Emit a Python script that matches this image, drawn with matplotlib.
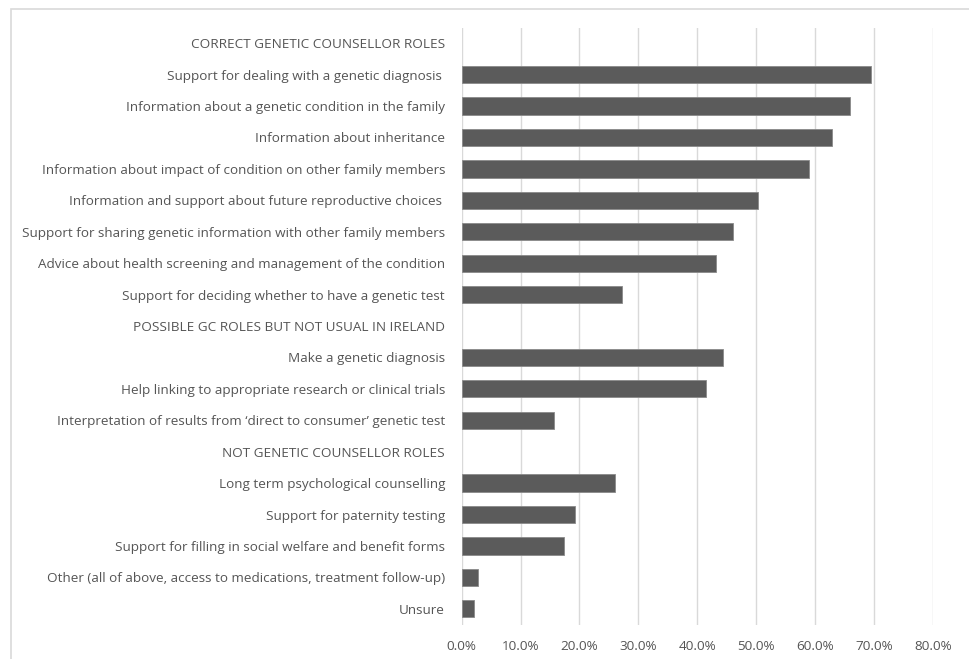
import matplotlib
matplotlib.use("Agg")
import matplotlib.pyplot as plt
from matplotlib.patches import Rectangle
from matplotlib.ticker import PercentFormatter
import numpy as np

plt.rcParams['font.family'] = ['Open Sans', 'DejaVu Sans']

categories = [
    "CORRECT GENETIC COUNSELLOR ROLES",
    "Support for dealing with a genetic diagnosis ",
    "Information about a genetic condition in the family",
    "Information about inheritance",
    "Information about impact of condition on other family members",
    "Information and support about future reproductive choices ",
    "Support for sharing genetic information with other family members",
    "Advice about health screening and management of the condition",
    "Support for deciding whether to have a genetic test",
    "POSSIBLE GC ROLES BUT NOT USUAL IN IRELAND",
    "Make a genetic diagnosis",
    "Help linking to appropriate research or clinical trials",
    "Interpretation of results from \u2018direct to consumer\u2019 genetic test",
    "NOT GENETIC COUNSELLOR ROLES",
    "Long term psychological counselling",
    "Support for paternity testing",
    "Support for filling in social welfare and benefit forms",
    "Other (all of above, access to medications, treatment follow-up)",
    "Unsure",
]
values = [None, 69.5, 66.0, 62.9, 59.0, 50.3, 46.1, 43.2, 27.3,
          None, 44.4, 41.5, 15.7,
          None, 26.1, 19.2, 17.4, 2.8, 2.1]
xticks = [0, 10, 20, 30, 40, 50, 60, 70, 80]

W, H = 970, 659
fig = plt.figure(figsize=(W / 100, H / 100), dpi=100)
fig.patches.append(Rectangle((11.5 / W, -20 / H), 1.1, (H - 9.5 + 20) / H,
                             transform=fig.transFigure, fill=False,
                             edgecolor='#d9d9d9', linewidth=1.2))
ax = fig.add_axes([461.7 / W, 1 - 624.5 / H, (932.7 - 461.7) / W, (624.5 - 27.5) / H])

n = len(categories)
ypos = np.arange(n)
for y, v in zip(ypos, values):
    if v is not None:
        ax.barh(y, v, height=0.55, color='#5b5b5b', edgecolor='#8a8a8a',
                linewidth=0.6, zorder=3)

ax.set_ylim(n - 0.5, -0.5)
ax.set_xlim(0, 80)
ax.set_yticks(ypos)
ax.set_yticklabels(categories, fontsize=9.7, color='#555555')
ax.set_xticks(xticks)
ax.xaxis.set_major_formatter(PercentFormatter(decimals=1))
ax.tick_params(axis='x', labelsize=9.7, colors='#555555', length=0, pad=11)
ax.tick_params(axis='y', length=0, pad=12)
ax.grid(axis='x', color='#d9d9d9', linewidth=1, zorder=0)
for s in ax.spines.values():
    s.set_visible(False)

fig.savefig("out.png", dpi=100)
